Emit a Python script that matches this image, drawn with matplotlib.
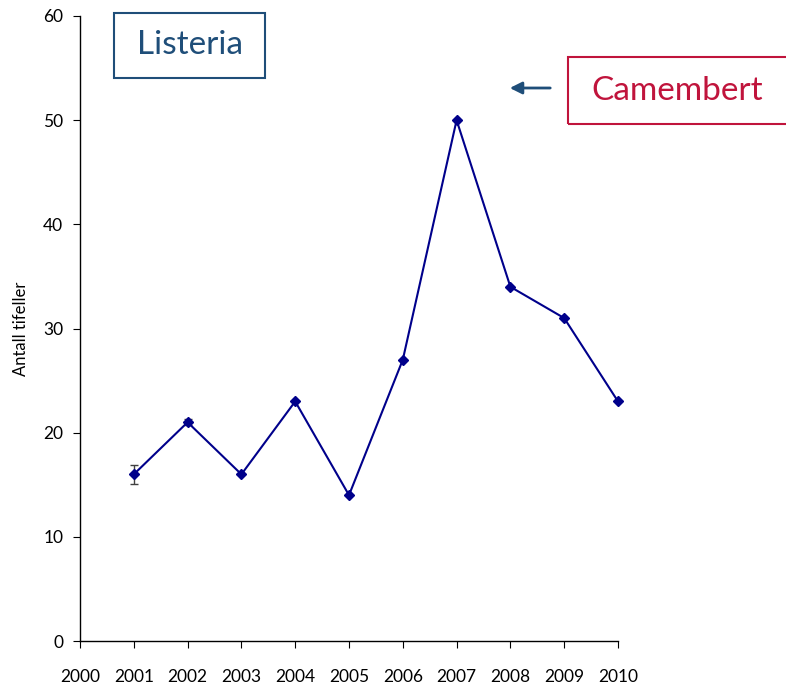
import matplotlib
matplotlib.use('Agg')
import matplotlib.pyplot as plt
from matplotlib.patches import Rectangle

years = [2001, 2002, 2003, 2004, 2005, 2006, 2007, 2008, 2009, 2010]
cases = [16, 21, 16, 23, 14, 27, 50, 34, 31, 23]
errors = [0.9, 0.3, 0, 0, 0, 0, 0, 0, 0, 0]
xticks = list(range(2000, 2011))
yticks = [0, 10, 20, 30, 40, 50, 60]

plt.rcParams['font.family'] = ['Lato', 'DejaVu Sans']

W, H = 786, 684
fig = plt.figure(figsize=(W / 100, H / 100), dpi=100)
ax = fig.add_axes([80 / W, 1 - 641 / H, (618 - 80) / W, (641 - 16) / H])

ax.errorbar(years, cases, yerr=errors, color='#00008B', marker='D', markersize=5.5,
            linewidth=1.5, ecolor='#404040', elinewidth=1, capsize=3, clip_on=False)

ax.set_xlim(2000, 2010)
ax.set_ylim(0, 60)
ax.set_xticks(xticks)
ax.set_yticks(yticks)
ax.tick_params(axis='x', direction='out', length=5, pad=15, labelsize=12.5)
ax.tick_params(axis='y', direction='out', length=5, pad=7, labelsize=12.5)
for s in ['top', 'right']:
    ax.spines[s].set_visible(False)
for s in ['left', 'bottom']:
    ax.spines[s].set_color('black')
    ax.spines[s].set_linewidth(1)
ax.set_ylabel('Antall tifeller', fontsize=12)
ax.yaxis.set_label_coords(-0.095, 0.5)


def px_box(x0, y0, x1, y1, color, text, tcolor, size, dx=0):
    fig.add_artist(Rectangle((x0 / W, 1 - y1 / H), (x1 - x0) / W, (y1 - y0) / H,
                             transform=fig.transFigure, fill=False,
                             edgecolor=color, linewidth=1.5))
    fig.text(((x0 + x1) / 2 + dx) / W, 1 - (y0 + y1) / 2 / H, text, color=tcolor,
             fontsize=size, ha='center', va='center')


px_box(114, 13, 265, 78, '#1F4E79', 'Listeria', '#1F4E79', 24)
px_box(568, 57, 790, 124, '#C0143C', 'Camembert', '#C0143C', 24, dx=-2)

fig.add_artist(plt.Annotation('', xy=(507 / W, 1 - 88 / H), xytext=(553 / W, 1 - 88 / H),
                              xycoords='figure fraction', textcoords='figure fraction',
                              arrowprops=dict(arrowstyle='-|>', color='#1F4E79', lw=2,
                                              mutation_scale=18)))

fig.savefig('out.png', dpi=100)
